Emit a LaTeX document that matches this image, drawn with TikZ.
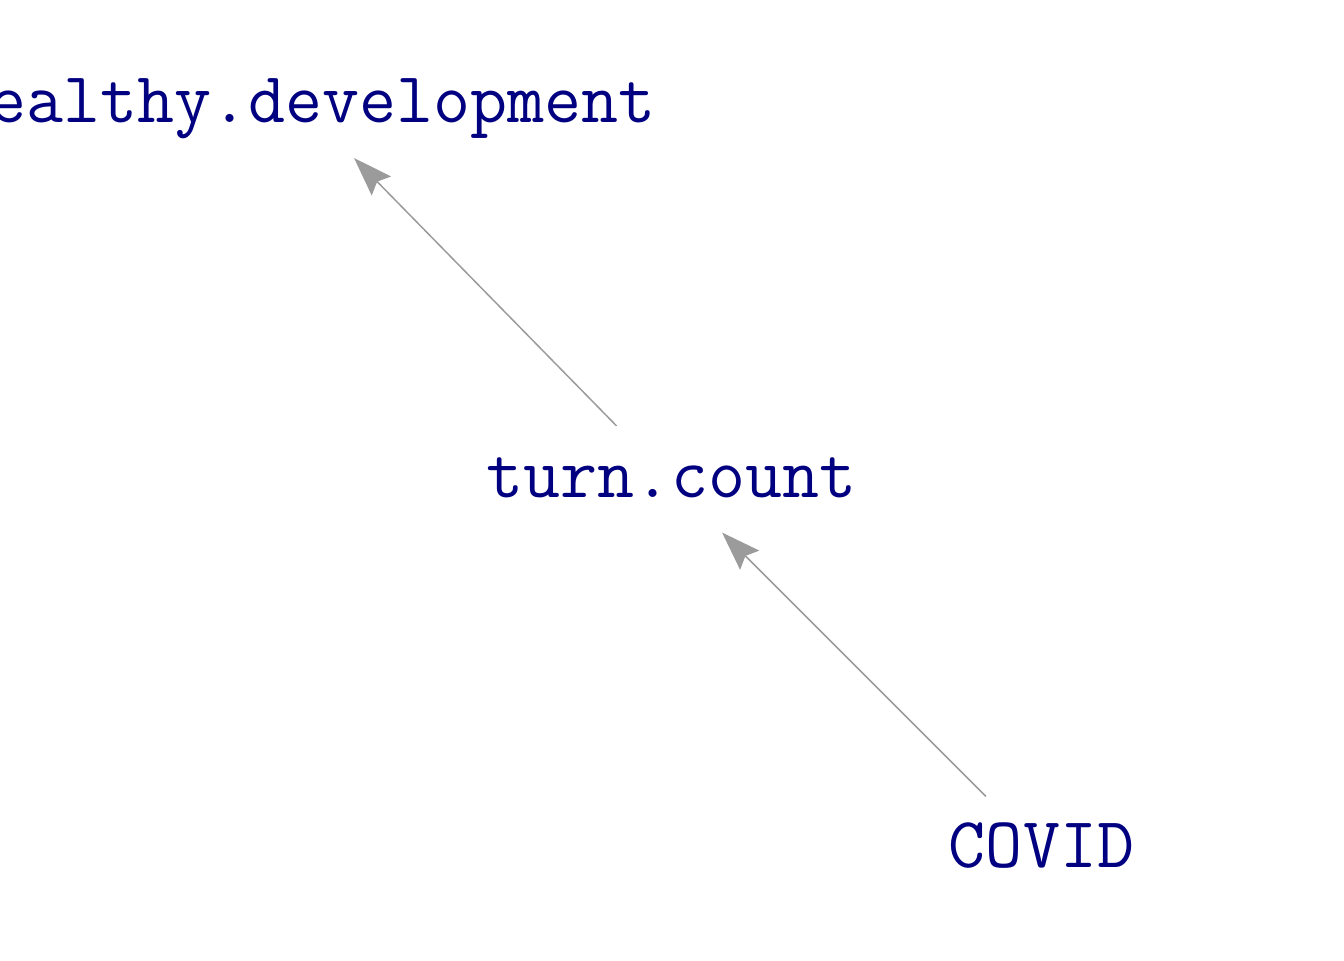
\documentclass[tikz,border=0pt]{standalone}
\usepackage{fontspec}
\usetikzlibrary{arrows.meta}
\definecolor{varnavy}{RGB}{0,0,128}
\definecolor{edgegray}{RGB}{155,155,155}

\begin{document}
\begin{tikzpicture}[
    >={Stealth[length=0.78cm, width=0.54cm, inset=0.12cm]},
    var/.style={inner sep=0pt, text=varnavy, font=\fontsize{40.9pt}{42pt}\ttfamily, text height=27pt, text depth=9pt},
    edge/.style={->, draw=edgegray, fill=edgegray, line width=0.85pt, shorten <=1.57cm, shorten >=1.43cm}
]
    \useasboundingbox (0,0) rectangle (26.88,19.2);
    \clip (0,0) rectangle (26.88,19.2);

    \node[var] (dev) at (6.08,17.06) {healthy.development};
    \node[var] (turn) at (13.43,9.56) {turn.count};
    \node[var] (covid) at (20.83,2.16) {COVID};

    \draw[edge] (turn.center) -- (dev.center);
    \draw[edge] (covid.center) -- (turn.center);

\end{tikzpicture}
\end{document}
